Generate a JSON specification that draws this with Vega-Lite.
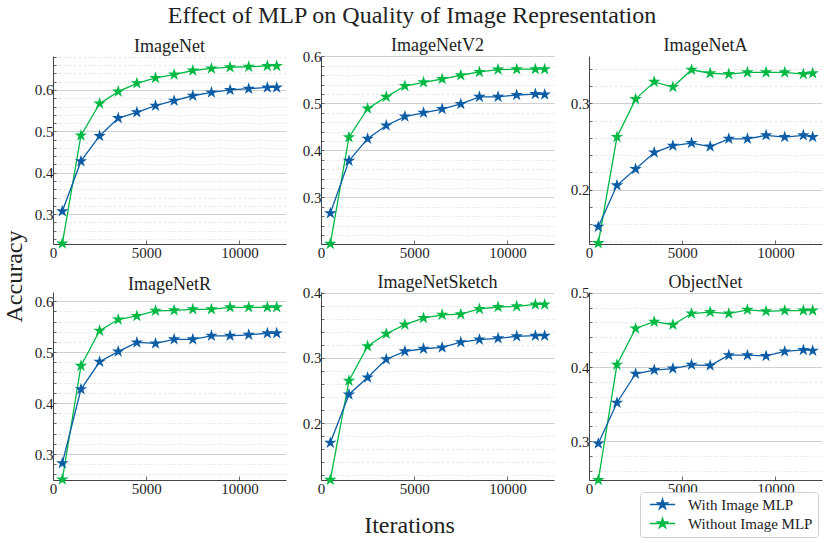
{
"$schema": "https://vega.github.io/schema/vega-lite/v6.json",
"autosize": {"type": "pad"},
"padding": {"left": 2, "top": 4, "right": 5, "bottom": 5},
"background": "white",
"bounds": "flush",
"columns": 3,
"spacing": {"row": 48, "column": 35},
"title": {"text": "Effect of MLP on Quality of Image Representation", "font": "Liberation Serif", "fontSize": 24, "fontWeight": "normal", "color": "#222", "anchor": "middle", "offset": 9},
"datasets": {"acc": [
{"ds":"ImageNet","m":"Without Image MLP","it":500,"acc":0.229},{"ds":"ImageNet","m":"Without Image MLP","it":1500,"acc":0.490},{"ds":"ImageNet","m":"Without Image MLP","it":2500,"acc":0.567},{"ds":"ImageNet","m":"Without Image MLP","it":3500,"acc":0.596},{"ds":"ImageNet","m":"Without Image MLP","it":4500,"acc":0.616},{"ds":"ImageNet","m":"Without Image MLP","it":5500,"acc":0.629},{"ds":"ImageNet","m":"Without Image MLP","it":6500,"acc":0.637},{"ds":"ImageNet","m":"Without Image MLP","it":7500,"acc":0.647},{"ds":"ImageNet","m":"Without Image MLP","it":8500,"acc":0.652},{"ds":"ImageNet","m":"Without Image MLP","it":9500,"acc":0.655},{"ds":"ImageNet","m":"Without Image MLP","it":10500,"acc":0.656},{"ds":"ImageNet","m":"Without Image MLP","it":11500,"acc":0.658},{"ds":"ImageNet","m":"Without Image MLP","it":12000,"acc":0.658},
{"ds":"ImageNetV2","m":"Without Image MLP","it":500,"acc":0.201},{"ds":"ImageNetV2","m":"Without Image MLP","it":1500,"acc":0.428},{"ds":"ImageNetV2","m":"Without Image MLP","it":2500,"acc":0.489},{"ds":"ImageNetV2","m":"Without Image MLP","it":3500,"acc":0.514},{"ds":"ImageNetV2","m":"Without Image MLP","it":4500,"acc":0.537},{"ds":"ImageNetV2","m":"Without Image MLP","it":5500,"acc":0.545},{"ds":"ImageNetV2","m":"Without Image MLP","it":6500,"acc":0.552},{"ds":"ImageNetV2","m":"Without Image MLP","it":7500,"acc":0.560},{"ds":"ImageNetV2","m":"Without Image MLP","it":8500,"acc":0.567},{"ds":"ImageNetV2","m":"Without Image MLP","it":9500,"acc":0.572},{"ds":"ImageNetV2","m":"Without Image MLP","it":10500,"acc":0.573},{"ds":"ImageNetV2","m":"Without Image MLP","it":11500,"acc":0.573},{"ds":"ImageNetV2","m":"Without Image MLP","it":12000,"acc":0.573},
{"ds":"ImageNetA","m":"Without Image MLP","it":500,"acc":0.138},{"ds":"ImageNetA","m":"Without Image MLP","it":1500,"acc":0.261},{"ds":"ImageNetA","m":"Without Image MLP","it":2500,"acc":0.305},{"ds":"ImageNetA","m":"Without Image MLP","it":3500,"acc":0.325},{"ds":"ImageNetA","m":"Without Image MLP","it":4500,"acc":0.319},{"ds":"ImageNetA","m":"Without Image MLP","it":5500,"acc":0.339},{"ds":"ImageNetA","m":"Without Image MLP","it":6500,"acc":0.335},{"ds":"ImageNetA","m":"Without Image MLP","it":7500,"acc":0.334},{"ds":"ImageNetA","m":"Without Image MLP","it":8500,"acc":0.336},{"ds":"ImageNetA","m":"Without Image MLP","it":9500,"acc":0.336},{"ds":"ImageNetA","m":"Without Image MLP","it":10500,"acc":0.336},{"ds":"ImageNetA","m":"Without Image MLP","it":11500,"acc":0.334},{"ds":"ImageNetA","m":"Without Image MLP","it":12000,"acc":0.335},
{"ds":"ImageNetR","m":"Without Image MLP","it":500,"acc":0.250},{"ds":"ImageNetR","m":"Without Image MLP","it":1500,"acc":0.473},{"ds":"ImageNetR","m":"Without Image MLP","it":2500,"acc":0.542},{"ds":"ImageNetR","m":"Without Image MLP","it":3500,"acc":0.564},{"ds":"ImageNetR","m":"Without Image MLP","it":4500,"acc":0.571},{"ds":"ImageNetR","m":"Without Image MLP","it":5500,"acc":0.581},{"ds":"ImageNetR","m":"Without Image MLP","it":6500,"acc":0.582},{"ds":"ImageNetR","m":"Without Image MLP","it":7500,"acc":0.584},{"ds":"ImageNetR","m":"Without Image MLP","it":8500,"acc":0.584},{"ds":"ImageNetR","m":"Without Image MLP","it":9500,"acc":0.588},{"ds":"ImageNetR","m":"Without Image MLP","it":10500,"acc":0.588},{"ds":"ImageNetR","m":"Without Image MLP","it":11500,"acc":0.588},{"ds":"ImageNetR","m":"Without Image MLP","it":12000,"acc":0.588},
{"ds":"ImageNetSketch","m":"Without Image MLP","it":500,"acc":0.113},{"ds":"ImageNetSketch","m":"Without Image MLP","it":1500,"acc":0.265},{"ds":"ImageNetSketch","m":"Without Image MLP","it":2500,"acc":0.318},{"ds":"ImageNetSketch","m":"Without Image MLP","it":3500,"acc":0.337},{"ds":"ImageNetSketch","m":"Without Image MLP","it":4500,"acc":0.351},{"ds":"ImageNetSketch","m":"Without Image MLP","it":5500,"acc":0.361},{"ds":"ImageNetSketch","m":"Without Image MLP","it":6500,"acc":0.366},{"ds":"ImageNetSketch","m":"Without Image MLP","it":7500,"acc":0.367},{"ds":"ImageNetSketch","m":"Without Image MLP","it":8500,"acc":0.375},{"ds":"ImageNetSketch","m":"Without Image MLP","it":9500,"acc":0.378},{"ds":"ImageNetSketch","m":"Without Image MLP","it":10500,"acc":0.379},{"ds":"ImageNetSketch","m":"Without Image MLP","it":11500,"acc":0.382},{"ds":"ImageNetSketch","m":"Without Image MLP","it":12000,"acc":0.382},
{"ds":"ObjectNet","m":"Without Image MLP","it":500,"acc":0.248},{"ds":"ObjectNet","m":"Without Image MLP","it":1500,"acc":0.403},{"ds":"ObjectNet","m":"Without Image MLP","it":2500,"acc":0.452},{"ds":"ObjectNet","m":"Without Image MLP","it":3500,"acc":0.461},{"ds":"ObjectNet","m":"Without Image MLP","it":4500,"acc":0.457},{"ds":"ObjectNet","m":"Without Image MLP","it":5500,"acc":0.472},{"ds":"ObjectNet","m":"Without Image MLP","it":6500,"acc":0.474},{"ds":"ObjectNet","m":"Without Image MLP","it":7500,"acc":0.472},{"ds":"ObjectNet","m":"Without Image MLP","it":8500,"acc":0.477},{"ds":"ObjectNet","m":"Without Image MLP","it":9500,"acc":0.475},{"ds":"ObjectNet","m":"Without Image MLP","it":10500,"acc":0.476},{"ds":"ObjectNet","m":"Without Image MLP","it":11500,"acc":0.476},{"ds":"ObjectNet","m":"Without Image MLP","it":12000,"acc":0.476},
{"ds":"ImageNet","m":"With Image MLP","it":500,"acc":0.307},{"ds":"ImageNet","m":"With Image MLP","it":1500,"acc":0.428},{"ds":"ImageNet","m":"With Image MLP","it":2500,"acc":0.489},{"ds":"ImageNet","m":"With Image MLP","it":3500,"acc":0.532},{"ds":"ImageNet","m":"With Image MLP","it":4500,"acc":0.546},{"ds":"ImageNet","m":"With Image MLP","it":5500,"acc":0.562},{"ds":"ImageNet","m":"With Image MLP","it":6500,"acc":0.574},{"ds":"ImageNet","m":"With Image MLP","it":7500,"acc":0.586},{"ds":"ImageNet","m":"With Image MLP","it":8500,"acc":0.594},{"ds":"ImageNet","m":"With Image MLP","it":9500,"acc":0.600},{"ds":"ImageNet","m":"With Image MLP","it":10500,"acc":0.603},{"ds":"ImageNet","m":"With Image MLP","it":11500,"acc":0.606},{"ds":"ImageNet","m":"With Image MLP","it":12000,"acc":0.606},
{"ds":"ImageNetV2","m":"With Image MLP","it":500,"acc":0.266},{"ds":"ImageNetV2","m":"With Image MLP","it":1500,"acc":0.378},{"ds":"ImageNetV2","m":"With Image MLP","it":2500,"acc":0.425},{"ds":"ImageNetV2","m":"With Image MLP","it":3500,"acc":0.453},{"ds":"ImageNetV2","m":"With Image MLP","it":4500,"acc":0.472},{"ds":"ImageNetV2","m":"With Image MLP","it":5500,"acc":0.480},{"ds":"ImageNetV2","m":"With Image MLP","it":6500,"acc":0.488},{"ds":"ImageNetV2","m":"With Image MLP","it":7500,"acc":0.499},{"ds":"ImageNetV2","m":"With Image MLP","it":8500,"acc":0.514},{"ds":"ImageNetV2","m":"With Image MLP","it":9500,"acc":0.514},{"ds":"ImageNetV2","m":"With Image MLP","it":10500,"acc":0.518},{"ds":"ImageNetV2","m":"With Image MLP","it":11500,"acc":0.520},{"ds":"ImageNetV2","m":"With Image MLP","it":12000,"acc":0.519},
{"ds":"ImageNetA","m":"With Image MLP","it":500,"acc":0.157},{"ds":"ImageNetA","m":"With Image MLP","it":1500,"acc":0.205},{"ds":"ImageNetA","m":"With Image MLP","it":2500,"acc":0.224},{"ds":"ImageNetA","m":"With Image MLP","it":3500,"acc":0.243},{"ds":"ImageNetA","m":"With Image MLP","it":4500,"acc":0.251},{"ds":"ImageNetA","m":"With Image MLP","it":5500,"acc":0.254},{"ds":"ImageNetA","m":"With Image MLP","it":6500,"acc":0.250},{"ds":"ImageNetA","m":"With Image MLP","it":7500,"acc":0.259},{"ds":"ImageNetA","m":"With Image MLP","it":8500,"acc":0.259},{"ds":"ImageNetA","m":"With Image MLP","it":9500,"acc":0.263},{"ds":"ImageNetA","m":"With Image MLP","it":10500,"acc":0.261},{"ds":"ImageNetA","m":"With Image MLP","it":11500,"acc":0.263},{"ds":"ImageNetA","m":"With Image MLP","it":12000,"acc":0.261},
{"ds":"ImageNetR","m":"With Image MLP","it":500,"acc":0.282},{"ds":"ImageNetR","m":"With Image MLP","it":1500,"acc":0.427},{"ds":"ImageNetR","m":"With Image MLP","it":2500,"acc":0.481},{"ds":"ImageNetR","m":"With Image MLP","it":3500,"acc":0.501},{"ds":"ImageNetR","m":"With Image MLP","it":4500,"acc":0.519},{"ds":"ImageNetR","m":"With Image MLP","it":5500,"acc":0.517},{"ds":"ImageNetR","m":"With Image MLP","it":6500,"acc":0.525},{"ds":"ImageNetR","m":"With Image MLP","it":7500,"acc":0.525},{"ds":"ImageNetR","m":"With Image MLP","it":8500,"acc":0.532},{"ds":"ImageNetR","m":"With Image MLP","it":9500,"acc":0.532},{"ds":"ImageNetR","m":"With Image MLP","it":10500,"acc":0.534},{"ds":"ImageNetR","m":"With Image MLP","it":11500,"acc":0.537},{"ds":"ImageNetR","m":"With Image MLP","it":12000,"acc":0.537},
{"ds":"ImageNetSketch","m":"With Image MLP","it":500,"acc":0.170},{"ds":"ImageNetSketch","m":"With Image MLP","it":1500,"acc":0.244},{"ds":"ImageNetSketch","m":"With Image MLP","it":2500,"acc":0.270},{"ds":"ImageNetSketch","m":"With Image MLP","it":3500,"acc":0.298},{"ds":"ImageNetSketch","m":"With Image MLP","it":4500,"acc":0.310},{"ds":"ImageNetSketch","m":"With Image MLP","it":5500,"acc":0.314},{"ds":"ImageNetSketch","m":"With Image MLP","it":6500,"acc":0.316},{"ds":"ImageNetSketch","m":"With Image MLP","it":7500,"acc":0.324},{"ds":"ImageNetSketch","m":"With Image MLP","it":8500,"acc":0.328},{"ds":"ImageNetSketch","m":"With Image MLP","it":9500,"acc":0.330},{"ds":"ImageNetSketch","m":"With Image MLP","it":10500,"acc":0.333},{"ds":"ImageNetSketch","m":"With Image MLP","it":11500,"acc":0.334},{"ds":"ImageNetSketch","m":"With Image MLP","it":12000,"acc":0.334},
{"ds":"ObjectNet","m":"With Image MLP","it":500,"acc":0.297},{"ds":"ObjectNet","m":"With Image MLP","it":1500,"acc":0.352},{"ds":"ObjectNet","m":"With Image MLP","it":2500,"acc":0.391},{"ds":"ObjectNet","m":"With Image MLP","it":3500,"acc":0.396},{"ds":"ObjectNet","m":"With Image MLP","it":4500,"acc":0.398},{"ds":"ObjectNet","m":"With Image MLP","it":5500,"acc":0.403},{"ds":"ObjectNet","m":"With Image MLP","it":6500,"acc":0.402},{"ds":"ObjectNet","m":"With Image MLP","it":7500,"acc":0.416},{"ds":"ObjectNet","m":"With Image MLP","it":8500,"acc":0.416},{"ds":"ObjectNet","m":"With Image MLP","it":9500,"acc":0.415},{"ds":"ObjectNet","m":"With Image MLP","it":10500,"acc":0.421},{"ds":"ObjectNet","m":"With Image MLP","it":11500,"acc":0.423},{"ds":"ObjectNet","m":"With Image MLP","it":12000,"acc":0.422}
]},
"concat": [
{"title": {"text": "ImageNet", "offset": -6}, "width": 233, "height": 188, "data": {"name": "acc"}, "transform": [{"filter": "datum.ds === 'ImageNet'"}],
 "mark": {"type": "line", "strokeWidth": 1.3, "point": {"shape": "M0,-1L0.2245,-0.309L0.951,-0.309L0.3633,0.118L0.588,0.809L0,0.382L-0.588,0.809L-0.3633,0.118L-0.951,-0.309L-0.2245,-0.309Z", "size": 170, "filled": true, "opacity": 1}},
 "encoding": {
  "x": {"field": "it", "type": "quantitative", "scale": {"domain": [0, 12500], "nice": false}, "axis": {"values": [0, 5000, 10000], "format": "d", "title": null, "grid": false, "labelFlush": false, "tickSize": -4, "labelPadding": 5}},
  "y": {"field": "acc", "type": "quantitative", "scale": {"domain": [0.228, 0.682], "nice": false, "zero": false},
   "axis": {"title": "Accuracy", "titleFontSize": 24, "titleY": 220, "titleX": -27, "values": [0.24,0.26,0.28,0.3,0.32,0.34,0.36,0.38,0.4,0.42,0.44,0.46,0.48,0.5,0.52,0.54,0.56,0.58,0.6,0.62,0.64,0.66,0.68], "labelOverlap": false, "labelFlush": false, "tickSize": -3, "labelPadding": 3,
    "labelExpr": "abs(datum.value*10 - round(datum.value*10)) < 0.001 ? format(datum.value, '.1f') : ''",
    "gridColor": {"condition": {"test": "abs(datum.value*10 - round(datum.value*10)) < 0.001", "value": "#c4c4c4"}, "value": "#e4e4e4"},
    "gridDash": {"condition": {"test": "abs(datum.value*10 - round(datum.value*10)) < 0.001", "value": []}, "value": [3, 2]}}},
  "color": {"field": "m", "type": "nominal", "scale": {"domain": ["With Image MLP", "Without Image MLP"], "range": ["#0C5DA5", "#00B945"]}, "legend": {"title": null}}
 }},
{"title": {"text": "ImageNetV2", "offset": -6}, "width": 233, "height": 188, "data": {"name": "acc"}, "transform": [{"filter": "datum.ds === 'ImageNetV2'"}],
 "mark": {"type": "line", "strokeWidth": 1.3, "point": {"shape": "M0,-1L0.2245,-0.309L0.951,-0.309L0.3633,0.118L0.588,0.809L0,0.382L-0.588,0.809L-0.3633,0.118L-0.951,-0.309L-0.2245,-0.309Z", "size": 170, "filled": true, "opacity": 1}},
 "encoding": {
  "x": {"field": "it", "type": "quantitative", "scale": {"domain": [0, 12500], "nice": false}, "axis": {"values": [0, 5000, 10000], "format": "d", "title": null, "grid": false, "labelFlush": false, "tickSize": -4, "labelPadding": 5}},
  "y": {"field": "acc", "type": "quantitative", "scale": {"domain": [0.2007, 0.601], "nice": false, "zero": false},
   "axis": {"title": null, "values": [0.22,0.24,0.26,0.28,0.3,0.32,0.34,0.36,0.38,0.4,0.42,0.44,0.46,0.48,0.5,0.52,0.54,0.56,0.58,0.6], "labelOverlap": false, "labelFlush": false, "tickSize": -3, "labelPadding": 3,
    "labelExpr": "abs(datum.value*10 - round(datum.value*10)) < 0.001 ? format(datum.value, '.1f') : ''",
    "gridColor": {"condition": {"test": "abs(datum.value*10 - round(datum.value*10)) < 0.001", "value": "#c4c4c4"}, "value": "#e4e4e4"},
    "gridDash": {"condition": {"test": "abs(datum.value*10 - round(datum.value*10)) < 0.001", "value": []}, "value": [3, 2]}}},
  "color": {"field": "m", "type": "nominal", "scale": {"domain": ["With Image MLP", "Without Image MLP"], "range": ["#0C5DA5", "#00B945"]}, "legend": {"title": null}}
 }},
{"title": {"text": "ImageNetA", "offset": 1}, "width": 233, "height": 188, "data": {"name": "acc"}, "transform": [{"filter": "datum.ds === 'ImageNetA'"}],
 "mark": {"type": "line", "strokeWidth": 1.3, "point": {"shape": "M0,-1L0.2245,-0.309L0.951,-0.309L0.3633,0.118L0.588,0.809L0,0.382L-0.588,0.809L-0.3633,0.118L-0.951,-0.309L-0.2245,-0.309Z", "size": 170, "filled": true, "opacity": 1}},
 "encoding": {
  "x": {"field": "it", "type": "quantitative", "scale": {"domain": [0, 12500], "nice": false}, "axis": {"values": [0, 5000, 10000], "format": "d", "title": null, "grid": false, "labelFlush": false, "tickSize": -4, "labelPadding": 5}},
  "y": {"field": "acc", "type": "quantitative", "scale": {"domain": [0.137, 0.355], "nice": false, "zero": false},
   "axis": {"title": null, "values": [0.14,0.16,0.18,0.2,0.22,0.24,0.26,0.28,0.3,0.32,0.34], "labelOverlap": false, "labelFlush": false, "tickSize": -3, "labelPadding": 3,
    "labelExpr": "abs(datum.value*10 - round(datum.value*10)) < 0.001 ? format(datum.value, '.1f') : ''",
    "gridColor": {"condition": {"test": "abs(datum.value*10 - round(datum.value*10)) < 0.001", "value": "#c4c4c4"}, "value": "#e4e4e4"},
    "gridDash": {"condition": {"test": "abs(datum.value*10 - round(datum.value*10)) < 0.001", "value": []}, "value": [3, 2]}}},
  "color": {"field": "m", "type": "nominal", "scale": {"domain": ["With Image MLP", "Without Image MLP"], "range": ["#0C5DA5", "#00B945"]}, "legend": {"title": null}}
 }},
{"title": {"text": "ImageNetR", "offset": -2}, "width": 233, "height": 188, "data": {"name": "acc"}, "transform": [{"filter": "datum.ds === 'ImageNetR'"}],
 "mark": {"type": "line", "strokeWidth": 1.3, "point": {"shape": "M0,-1L0.2245,-0.309L0.951,-0.309L0.3633,0.118L0.588,0.809L0,0.382L-0.588,0.809L-0.3633,0.118L-0.951,-0.309L-0.2245,-0.309Z", "size": 170, "filled": true, "opacity": 1}},
 "encoding": {
  "x": {"field": "it", "type": "quantitative", "scale": {"domain": [0, 12500], "nice": false}, "axis": {"values": [0, 5000, 10000], "format": "d", "title": null, "grid": false, "labelFlush": false, "tickSize": -4, "labelPadding": 5}},
  "y": {"field": "acc", "type": "quantitative", "scale": {"domain": [0.249, 0.618], "nice": false, "zero": false},
   "axis": {"title": null, "values": [0.26,0.28,0.3,0.32,0.34,0.36,0.38,0.4,0.42,0.44,0.46,0.48,0.5,0.52,0.54,0.56,0.58,0.6], "labelOverlap": false, "labelFlush": false, "tickSize": -3, "labelPadding": 3,
    "labelExpr": "abs(datum.value*10 - round(datum.value*10)) < 0.001 ? format(datum.value, '.1f') : ''",
    "gridColor": {"condition": {"test": "abs(datum.value*10 - round(datum.value*10)) < 0.001", "value": "#c4c4c4"}, "value": "#e4e4e4"},
    "gridDash": {"condition": {"test": "abs(datum.value*10 - round(datum.value*10)) < 0.001", "value": []}, "value": [3, 2]}}},
  "color": {"field": "m", "type": "nominal", "scale": {"domain": ["With Image MLP", "Without Image MLP"], "range": ["#0C5DA5", "#00B945"]}, "legend": {"title": null}}
 }},
{"title": {"text": "ImageNetSketch", "offset": -6}, "width": 233, "height": 188, "data": {"name": "acc"}, "transform": [{"filter": "datum.ds === 'ImageNetSketch'"}],
 "mark": {"type": "line", "strokeWidth": 1.3, "point": {"shape": "M0,-1L0.2245,-0.309L0.951,-0.309L0.3633,0.118L0.588,0.809L0,0.382L-0.588,0.809L-0.3633,0.118L-0.951,-0.309L-0.2245,-0.309Z", "size": 170, "filled": true, "opacity": 1}},
 "encoding": {
  "x": {"field": "it", "type": "quantitative", "scale": {"domain": [0, 12500], "nice": false}, "axis": {"values": [0, 5000, 10000], "format": "d", "title": "Iterations", "titleFontSize": 24, "titleX": 88, "titleY": 52, "titleBaseline": "alphabetic", "grid": false, "labelFlush": false, "tickSize": -4, "labelPadding": 5}},
  "y": {"field": "acc", "type": "quantitative", "scale": {"domain": [0.1128, 0.401], "nice": false, "zero": false},
   "axis": {"title": null, "values": [0.12,0.14,0.16,0.18,0.2,0.22,0.24,0.26,0.28,0.3,0.32,0.34,0.36,0.38,0.4], "labelOverlap": false, "labelFlush": false, "tickSize": -3, "labelPadding": 3,
    "labelExpr": "abs(datum.value*10 - round(datum.value*10)) < 0.001 ? format(datum.value, '.1f') : ''",
    "gridColor": {"condition": {"test": "abs(datum.value*10 - round(datum.value*10)) < 0.001", "value": "#c4c4c4"}, "value": "#e4e4e4"},
    "gridDash": {"condition": {"test": "abs(datum.value*10 - round(datum.value*10)) < 0.001", "value": []}, "value": [3, 2]}}},
  "color": {"field": "m", "type": "nominal", "scale": {"domain": ["With Image MLP", "Without Image MLP"], "range": ["#0C5DA5", "#00B945"]}, "legend": {"title": null}}
 }},
{"title": {"text": "ObjectNet", "offset": -6}, "width": 233, "height": 188, "data": {"name": "acc"}, "transform": [{"filter": "datum.ds === 'ObjectNet'"}],
 "mark": {"type": "line", "strokeWidth": 1.3, "point": {"shape": "M0,-1L0.2245,-0.309L0.951,-0.309L0.3633,0.118L0.588,0.809L0,0.382L-0.588,0.809L-0.3633,0.118L-0.951,-0.309L-0.2245,-0.309Z", "size": 170, "filled": true, "opacity": 1}},
 "encoding": {
  "x": {"field": "it", "type": "quantitative", "scale": {"domain": [0, 12500], "nice": false}, "axis": {"values": [0, 5000, 10000], "format": "d", "title": null, "grid": false, "labelFlush": false, "tickSize": -4, "labelPadding": 5}},
  "y": {"field": "acc", "type": "quantitative", "scale": {"domain": [0.248, 0.501], "nice": false, "zero": false},
   "axis": {"title": null, "values": [0.26,0.28,0.3,0.32,0.34,0.36,0.38,0.4,0.42,0.44,0.46,0.48,0.5], "labelOverlap": false, "labelFlush": false, "tickSize": -3, "labelPadding": 3,
    "labelExpr": "abs(datum.value*10 - round(datum.value*10)) < 0.001 ? format(datum.value, '.1f') : ''",
    "gridColor": {"condition": {"test": "abs(datum.value*10 - round(datum.value*10)) < 0.001", "value": "#c4c4c4"}, "value": "#e4e4e4"},
    "gridDash": {"condition": {"test": "abs(datum.value*10 - round(datum.value*10)) < 0.001", "value": []}, "value": [3, 2]}}},
  "color": {"field": "m", "type": "nominal", "scale": {"domain": ["With Image MLP", "Without Image MLP"], "range": ["#0C5DA5", "#00B945"]}, "legend": {"title": null}}
 }}
],
"resolve": {"scale": {"y": "independent", "x": "independent"}},
"config": {
 "view": {"stroke": null},
 "font": "Liberation Serif",
 "title": {"font": "Liberation Serif", "fontSize": 18, "fontWeight": "normal", "color": "#222"},
 "axis": {"labelFont": "Liberation Serif", "labelFontSize": 15, "labelColor": "#222", "titleFont": "Liberation Serif", "titleFontWeight": "normal", "titleColor": "#222", "domainColor": "#444", "domainWidth": 1, "tickColor": "#444", "tickWidth": 0.8, "gridWidth": 0.8},
 "legend": {"orient": "none", "legendX": 587, "legendY": 436, "labelFont": "Liberation Serif", "labelFontSize": 15, "labelColor": "#222",
  "symbolType": "M-2.4,0H2.4M0,-1L0.2245,-0.309L0.951,-0.309L0.3633,0.118L0.588,0.809L0,0.382L-0.588,0.809L-0.3633,0.118L-0.951,-0.309L-0.2245,-0.309Z",
  "symbolSize": 110, "symbolStrokeWidth": 1.4, "fillColor": "white", "strokeColor": "#d0d0d0", "cornerRadius": 3, "padding": 5, "rowPadding": 2, "labelOffset": 18, "symbolOffset": 10}
}
}
